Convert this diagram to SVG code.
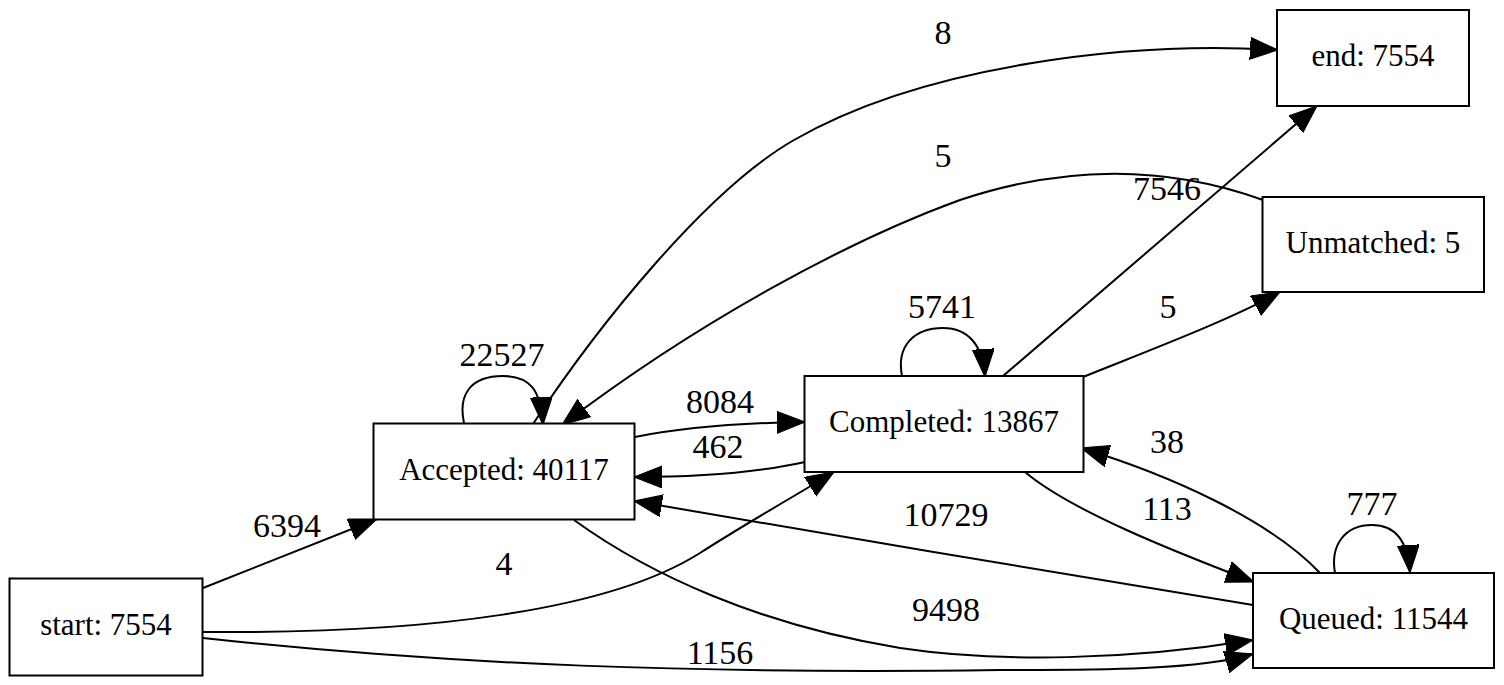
<svg xmlns="http://www.w3.org/2000/svg" width="1504" height="685" viewBox="0 0 1504 685">
<style>
.node rect{fill:#fff;stroke:#000;stroke-width:2}
.node text{font-family:"Liberation Serif","Times New Roman",serif;font-size:31px;text-anchor:middle;fill:#000}
.edge path{fill:none;stroke:#000;stroke-width:2;marker-end:url(#ah)}
.lbl text{font-family:"Liberation Serif","Times New Roman",serif;font-size:34px;text-anchor:middle;fill:#000}
</style>
<defs>
<marker id="ah" markerUnits="userSpaceOnUse" markerWidth="30" markerHeight="24" refX="28" refY="11" orient="auto" viewBox="0 0 30 24">
<path d="M0,0 L28,11 L0,22 Z" fill="#000" stroke="#000" stroke-width="1"/>
</marker>
</defs>
<rect width="1504" height="685" fill="#fff"/>
<g id="connectors">
<g class="edge">
<path d="M203,588 L377,519"/>
<path d="M203,632 C430,634 610,610 700,553 C750,521 800,493 834,472"/>
<path d="M203,638 C450,665 700,674 1000,670 C1100,670 1200,670 1253,654"/>
<path d="M574,520 C650,575 760,625 900,648 C1000,663 1130,660 1253,640"/>
<path d="M464,423 C458,395 470,376 503,376 C530,376 541,390 543,425"/>
<path d="M635,437 C680,428 730,423 805,422"/>
<path d="M805,462 C760,472 700,477 634,477"/>
<path d="M1253,605 C1100,580 800,530 634,501"/>
<path d="M902,376 C896,345 915,328 943,328 C968,328 983,345 985,377"/>
<path d="M1003,376 L1317,106"/>
<path d="M1083,377 C1150,350 1230,320 1280,292"/>
<path d="M1263,200 C1180,170 1080,160 960,200 C850,240 700,320 562,425"/>
<path d="M533,424 C599,324 707,190 794,140 C924,65 1130,41 1278,50"/>
<path d="M1025,472 C1070,510 1170,550 1254,582"/>
<path d="M1320,573 C1270,520 1170,475 1081,448"/>
<path d="M1335,573 C1330,545 1345,525 1372,525 C1395,525 1408,540 1410,573"/>
</g>
<g class="lbl">
<text x="287" y="537">6394</text>
<text x="504" y="575">4</text>
<text x="720" y="664">1156</text>
<text x="946" y="621">9498</text>
<text x="502" y="366">22527</text>
<text x="720" y="413">8084</text>
<text x="718" y="458">462</text>
<text x="946" y="526">10729</text>
<text x="942" y="318">5741</text>
<text x="1167" y="200">7546</text>
<text x="1168" y="318">5</text>
<text x="943" y="167">5</text>
<text x="943" y="44">8</text>
<text x="1167" y="520">113</text>
<text x="1167" y="453">38</text>
<text x="1372" y="515">777</text>
</g>
</g>
<g id="node-start" class="node"><rect x="9.5" y="578.5" width="193" height="97"/><text x="106" y="635">start: 7554</text></g>
<g id="node-accepted" class="node"><rect x="373.5" y="423.5" width="261" height="96"/><text x="504" y="480">Accepted: 40117</text></g>
<g id="node-completed" class="node"><rect x="804.5" y="376" width="279" height="96"/><text x="944" y="432">Completed: 13867</text></g>
<g id="node-queued" class="node"><rect x="1253" y="573" width="241" height="95"/><text x="1373.5" y="629">Queued: 11544</text></g>
<g id="node-end" class="node"><rect x="1277" y="10" width="192" height="96"/><text x="1373" y="66">end: 7554</text></g>
<g id="node-unmatched" class="node"><rect x="1262.5" y="197" width="221.5" height="95"/><text x="1373" y="253">Unmatched: 5</text></g>
</svg>
